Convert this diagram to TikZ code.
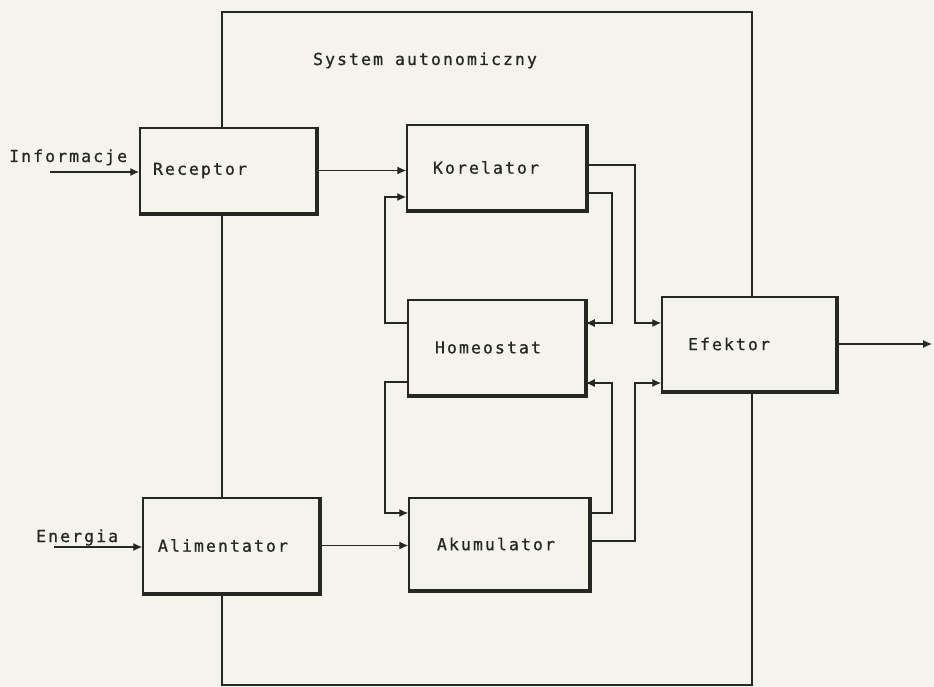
\documentclass[tikz,border=0pt]{standalone}
\usepackage{fontspec}
\usetikzlibrary{arrows.meta}
\newfontfamily\schemat[LetterSpace=12.5,FakeBold=0.8]{DejaVu Sans Mono}
\newcommand{\opis}{\schemat\fontsize{16.5bp}{19bp}\selectfont}
\definecolor{papier}{RGB}{244,244,236}
\definecolor{tusz}{RGB}{38,38,34}

\begin{document}
\begin{tikzpicture}[x=1bp,y=-1bp,
  blok/.style={draw=tusz,line width=1.5bp,minimum height=#1,align=left,font=\opis,text=tusz,inner ysep=0pt},
  cien/.style={draw=tusz,line width=3.5bp},
  pol/.style={draw=tusz,line width=1.3bp},
  strz/.style={pol,-{Latex[length=9bp,width=8bp]}},
  napis/.style={font=\opis,text=tusz,inner sep=0pt}]
\fill[papier] (0,0) rectangle (934,687);
\useasboundingbox (0,0) rectangle (934,687);

% bloki
\node[blok=85bp,text width=150bp,inner xsep=13bp] (rec) at (228,170.5) {Receptor};
\node[blok=85bp,text width=127bp,inner xsep=26bp] (kor) at (496.5,167.5) {Korelator};
\node[blok=95bp,text width=123bp,inner xsep=27bp] (hom) at (496.5,347.5) {Homeostat};
\node[blok=92bp,text width=124bp,inner xsep=28bp] (aku) at (499,544) {Akumulator};
\node[blok=95bp,text width=146bp,inner xsep=15bp] (ali) at (231,545.5) {Alimentator};
\node[blok=94bp,text width=122bp,inner xsep=26bp] (efe) at (749,344) {Efektor};
\foreach \n in {rec,kor,hom,aku,ali,efe}
  \draw[cien] (\n.north east) -- (\n.south east) -- (\n.south west);

% granica systemu
\node[napis,anchor=base] (sys) at (425,65) {System autonomiczny};
\coordinate (lg) at (222,12);
\coordinate (pg) at (752,12);
\coordinate (ld) at (222,685);
\coordinate (pd) at (752,685);
\draw[pol] (rec.north -| lg) -- (lg) -- (pg) -- (efe.north -| pg);
\draw[pol] (rec.south -| lg) -- (ali.north -| lg);
\draw[pol] (ali.south -| ld) -- (ld) -- (pd) -- (efe.south -| pd);

% wejscia i wyjscie
\node[napis,anchor=base west] (inf) at (9,162) {Informacje};
\node[napis,anchor=base west] (ene) at (36,542) {Energia};
\coordinate (wi) at (50,172);
\coordinate (we) at (54,547);
\coordinate (wy) at (932,344);
\draw[strz] (wi) -- (wi -| rec.west);
\draw[strz] (we) -- (we -| ali.west);
\draw[strz] (efe.east) -- (wy);

% polaczenia
\draw[strz] (rec.east) -- (rec.east -| kor.west);
\draw[strz] (ali.east) -- (ali.east -| aku.west);
\draw[strz] (hom.west |- 0,323) -- (385,323) -- (385,197) -- (kor.west |- 0,197);
\draw[strz] (hom.west |- 0,382) -- (385,382) -- (385,513) -- (aku.west |- 0,513);
\draw[strz] (kor.east |- 0,165) -- (635,165) -- (635,323) -- (efe.west |- 0,323);
\draw[strz] (kor.east |- 0,193) -- (612,193) -- (612,323) -- (hom.east |- 0,323);
\draw[strz] (aku.east |- 0,513) -- (612,513) -- (612,383) -- (hom.east |- 0,383);
\draw[strz] (aku.east |- 0,541) -- (635,541) -- (635,383) -- (efe.west |- 0,383);

\end{tikzpicture}
\end{document}
